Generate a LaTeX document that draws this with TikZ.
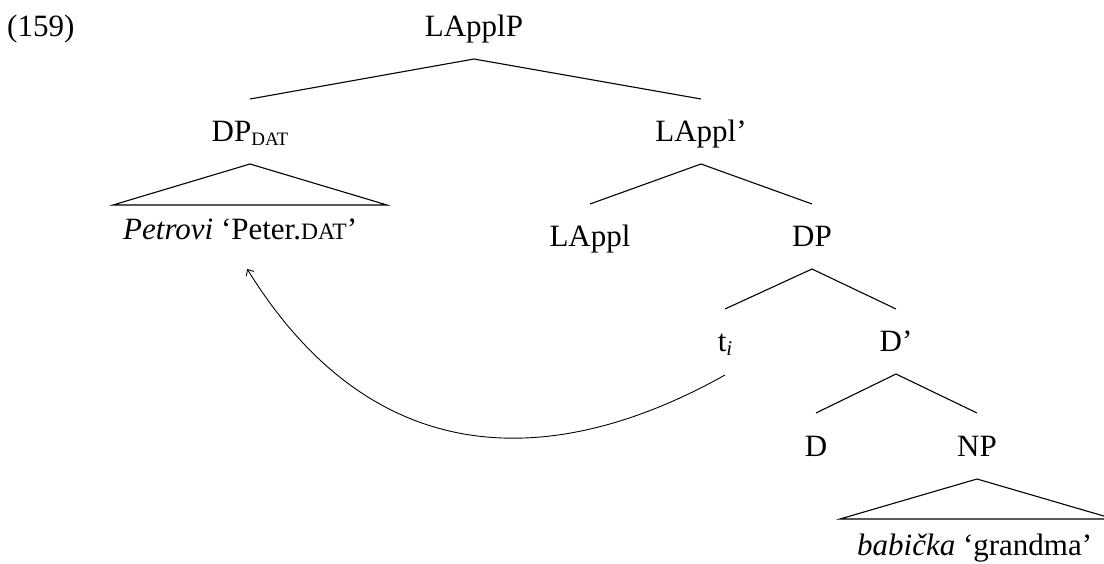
\documentclass[tikz,border=0pt]{standalone}
\usepackage{fontspec}
\setmainfont{Liberation Serif}
\usetikzlibrary{arrows.meta}
% small capitals imitated with reduced upper-case letters
\newcommand{\fakesc}[1]{{\fontsize{23.5}{26}\selectfont #1}}
\newcommand{\lowsub}[1]{\raisebox{-4pt}{\fontsize{19}{21}\selectfont #1}}
\begin{document}
\begin{tikzpicture}[x=1pt, y=-1pt,
  every node/.style={inner sep=0pt, font=\fontsize{31}{36}\selectfont},
  lbl/.style={anchor=base},
  branch/.style={line width=1.1pt, line join=miter},
  movearrow/.style={line width=0.9pt, -{Straight Barb[length=5pt,width=9pt]}}]
\useasboundingbox (0,0) rectangle (1104,564);
\clip (0,0) rectangle (1104,564);

% labels
\node[anchor=base west] (ex) at (7,37) {(159)};
\node[lbl] (LApplP)   at (474,37)  {LApplP};
\node[lbl] (DPdat)    at (250,142) {DP\lowsub{DAT}};
\node[lbl] (LApplbar) at (701,142) {LAppl’};
\node[anchor=base west] (Petrovi) at (123,240) {\textit{Petrovi} ‘Peter.\fakesc{DAT}’};
\node[lbl] (LAppl)    at (590,247) {LAppl};
\node[lbl] (DP)       at (812,247) {DP};
\node[lbl] (ti)       at (725,352) {t\raisebox{-4pt}{\fontsize{21}{23}\selectfont\itshape i}};
\node[lbl] (Dbar)     at (896,352) {D’};
\node[lbl] (D)        at (816,456) {D};
\node[lbl] (NP)       at (977,456) {NP};
\node[anchor=base west] (babicka) at (857,555) {\textit{babička} ‘grandma’};

% branches
\draw[branch] ([yshift=43pt]DPdat.base) -- ([yshift=-22pt]LApplP.base) -- ([yshift=43pt]LApplbar.base);
\draw[branch] ([yshift=43pt]LAppl.base) -- ([yshift=-22pt]LApplbar.base) -- ([yshift=43pt]DP.base);
\draw[branch] ([yshift=43pt]ti.base) -- ([yshift=-22pt]DP.base) -- ([yshift=43pt]Dbar.base);
\draw[branch] ([yshift=43pt]D.base) -- ([yshift=-22pt]Dbar.base) -- ([yshift=43pt]NP.base);

% roofs
\draw[branch] ([yshift=-22pt]DPdat.base) -- ([shift={(-137pt,-63pt)}]DPdat.base)
  -- ([shift={(137pt,-63pt)}]DPdat.base) -- cycle;
\draw[branch] ([yshift=-23pt]NP.base) -- ([shift={(-137pt,-63pt)}]NP.base)
  -- ([shift={(137pt,-63pt)}]NP.base) -- cycle;

% movement
\draw[movearrow] ([yshift=-23pt]ti.base) .. controls (589.6,451) and (390,499.9)
  .. ([shift={(7pt,-29pt)}]Petrovi.base);
\end{tikzpicture}
\end{document}
